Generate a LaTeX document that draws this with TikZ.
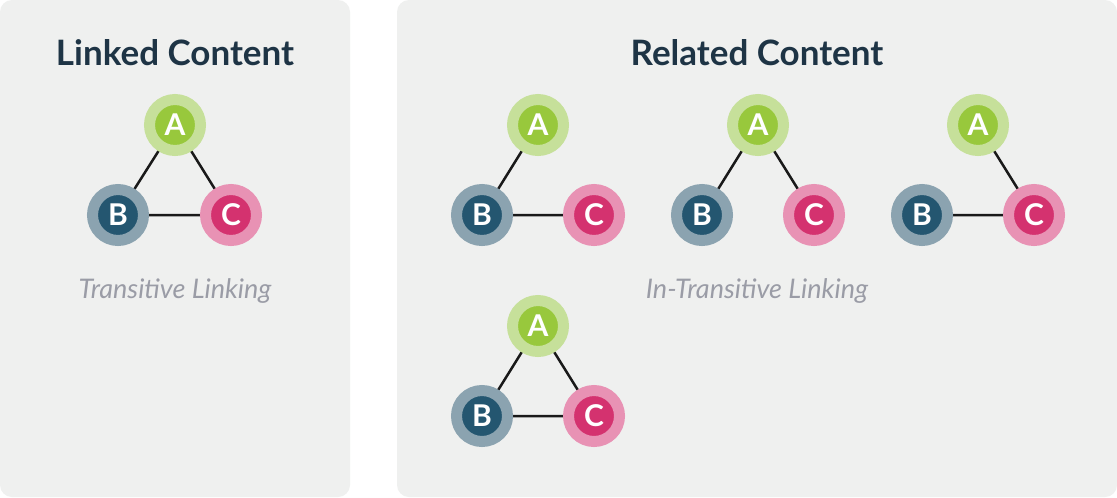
\documentclass[tikz,border=0pt]{standalone}
\usepackage{fontspec}
\setmainfont{Lato}
\definecolor{panel}{HTML}{EFF0EF}
\definecolor{navy}{HTML}{1E3445}
\definecolor{ain}{HTML}{98C83C}
\definecolor{aout}{HTML}{C6E09A}
\definecolor{bin}{HTML}{245670}
\definecolor{bout}{HTML}{8BA3B0}
\definecolor{cin}{HTML}{D4326F}
\definecolor{cout}{HTML}{E892B4}
\definecolor{lbl}{HTML}{9A9CA6}
\tikzset{
 panelbox/.style={fill=panel,rounded corners=12pt,draw=none},
 ttl/.style={text=navy,font=\fontsize{35}{36}\selectfont\bfseries},
 sub/.style={text=lbl,font=\fontsize{27}{28}\selectfont\itshape},
 nd/.style={circle,minimum size=51pt,inner sep=0pt,text=white,font=\fontsize{30}{30}\selectfont\bfseries,line width=11pt},
 na/.style={nd,fill=ain,draw=aout},
 nb/.style={nd,fill=bin,draw=bout},
 nc/.style={nd,fill=cin,draw=cout},
 ed/.style={line width=2.5pt,draw=black!90}
}
\begin{document}
\begin{tikzpicture}[x=1pt,y=-1pt]
\useasboundingbox (0,0) rectangle (1117,498);
\fill[white] (0,0) rectangle (1117,498);
\path[panelbox] (0,0) rectangle (350,497);
\path[panelbox] (397,0) rectangle (1117,497);
\node[ttl] (t1) at (175,53) {Linked Content};
\node[ttl] (t2) at (757,53) {Related Content};
\node[sub] (s1) at (175,291) {Transitive Linking};
\node[sub] (s2) at (757,291) {In-Transitive Linking};
% group 0
\draw[ed] (175,125) -- (118,215) -- (231,215) -- cycle;
\node[na] (a0) at (175,125) {A};
\node[nb] (b0) at (118,215) {B};
\node[nc] (c0) at (231,215) {C};
% group 1
\draw[ed] (538,125) -- (482,215) -- (594,215);
\node[na] (a1) at (538,125) {A};
\node[nb] (b1) at (482,215) {B};
\node[nc] (c1) at (594,215) {C};
% group 2
\draw[ed] (702,215) -- (758,125) -- (814,215);
\node[na] (a2) at (758,125) {A};
\node[nb] (b2) at (702,215) {B};
\node[nc] (c2) at (814,215) {C};
% group 3
\draw[ed] (922,215) -- (1034,215) -- (978,125);
\node[na] (a3) at (978,125) {A};
\node[nb] (b3) at (922,215) {B};
\node[nc] (c3) at (1034,215) {C};
% group 4
\draw[ed] (538,326) -- (482,416) -- (594,416) -- cycle;
\node[na] (a4) at (538,326) {A};
\node[nb] (b4) at (482,416) {B};
\node[nc] (c4) at (594,416) {C};
\end{tikzpicture}
\end{document}
